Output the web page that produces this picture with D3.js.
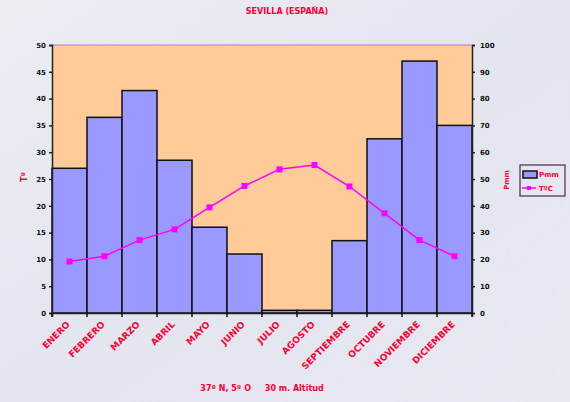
<!DOCTYPE html>
<html>
<head>
<meta charset="utf-8">
<script src="https://cdn.jsdelivr.net/npm/d3@7"></script>
<style>
  body { margin: 0; background: #e6e8f0; }
  text { font-family: "DejaVu Sans", sans-serif; }
</style>
</head>
<body>
<script>
// climograph data
var months = ['ENERO', 'FEBRERO', 'MARZO', 'ABRIL', 'MAYO', 'JUNIO', 'JULIO',
    'AGOSTO', 'SEPTIEMBRE', 'OCTUBRE', 'NOVIEMBRE', 'DICIEMBRE'];
var precip = [54, 73, 83, 57, 32, 22, 1, 1, 27, 65, 94, 70];      // Pmm
var temp = [9.6, 10.6, 13.6, 15.6, 19.7, 23.7, 26.8, 27.6, 23.6, 18.6, 13.6, 10.6]; // TºC
var tempTicks = d3.range(0, 51, 5);
var precTicks = d3.range(0, 101, 10);

var width = 570,
    height = 402,
    margin = {top: 45, right: 98, bottom: 89, left: 52};

var svg = d3.select('body').append('svg')
    .attr('width', width)
    .attr('height', height);

// soft background
var defs = svg.append('defs');
var grad = defs.append('linearGradient').attr('id', 'bg')
    .attr('x1', 0).attr('y1', 0).attr('x2', 1).attr('y2', 1);
grad.append('stop').attr('offset', 0).attr('stop-color', '#eceef4');
grad.append('stop').attr('offset', 0.5).attr('stop-color', '#e3e5ef');
grad.append('stop').attr('offset', 1).attr('stop-color', '#e8e9f1');
svg.append('rect').attr('width', width).attr('height', height).attr('fill', 'url(#bg)');

var x = d3.scaleBand()
    .domain(months)
    .range([margin.left, width - margin.right])
    .padding(0);

var yT = d3.scaleLinear().domain([0, 50]).range([height - margin.bottom, margin.top]);
var yP = d3.scaleLinear().domain([0, 100]).range([height - margin.bottom, margin.top]);

// plot area
svg.append('rect')
    .attr('x', margin.left)
    .attr('y', margin.top)
    .attr('width', width - margin.left - margin.right)
    .attr('height', height - margin.top - margin.bottom)
    .attr('fill', '#ffcc99');

svg.append('line')
    .attr('x1', margin.left).attr('x2', width - margin.right)
    .attr('y1', margin.top).attr('y2', margin.top)
    .attr('stroke', '#cc99cc').attr('stroke-width', 1.5);

// precipitation bars
svg.selectAll('rect.bar')
    .data(precip)
    .enter().append('rect')
    .attr('class', 'bar')
    .attr('x', function (d, i) { return x(months[i]); })
    .attr('y', function (d) { return yP(d); })
    .attr('width', x.bandwidth())
    .attr('height', function (d) { return yP(0) - yP(d); })
    .attr('fill', '#9999ff')
    .attr('stroke', '#111')
    .attr('stroke-width', 1.5);

// temperature line
var line = d3.line()
    .x(function (d, i) { return x(months[i]) + x.bandwidth() / 2; })
    .y(function (d) { return yT(d); });

svg.append('path')
    .datum(temp)
    .attr('d', line)
    .attr('fill', 'none')
    .attr('stroke', '#ff00ff')
    .attr('stroke-width', 1.5);

svg.selectAll('rect.pt')
    .data(temp)
    .enter().append('rect')
    .attr('class', 'pt')
    .attr('x', function (d, i) { return x(months[i]) + x.bandwidth() / 2 - 3; })
    .attr('y', function (d) { return yT(d) - 3; })
    .attr('width', 6)
    .attr('height', 6)
    .attr('fill', '#ff00ff');

// axes
var axisL = svg.append('g')
    .attr('transform', 'translate(' + margin.left + ',0)')
    .call(d3.axisLeft(yT).tickValues(tempTicks).tickSize(3).tickPadding(3));

var axisR = svg.append('g')
    .attr('transform', 'translate(' + (width - margin.right) + ',0)')
    .call(d3.axisRight(yP).tickValues(precTicks).tickSize(3).tickPadding(5));

var axisB = svg.append('g')
    .attr('transform', 'translate(0,' + (height - margin.bottom) + ')')
    .call(d3.axisBottom(x).tickSize(4).tickFormat(''));

// ticks on band edges
axisB.selectAll('.tick').remove();
svg.append('g').selectAll('line')
    .data(months.concat(['end']))
    .enter().append('line')
    .attr('x1', function (d, i) { return margin.left + i * x.bandwidth(); })
    .attr('x2', function (d, i) { return margin.left + i * x.bandwidth(); })
    .attr('y1', height - margin.bottom)
    .attr('y2', height - margin.bottom + 4)
    .attr('stroke', '#111').attr('stroke-width', 1.5);

[axisL, axisR, axisB].forEach(function (a) {
    a.select('.domain').attr('stroke', '#222').attr('stroke-width', 1.5);
    a.selectAll('.tick line').attr('stroke', '#222').attr('stroke-width', 1.5);
    a.selectAll('.tick text')
        .attr('fill', '#111')
        .style('font-size', '7px')
        .style('font-weight', 'bold');
});

// month labels
svg.append('g').selectAll('text')
    .data(months)
    .enter().append('text')
    .attr('transform', function (d) {
        return 'translate(' + (x(d) + x.bandwidth() / 2 + 1) + ',' + (height - margin.bottom + 12) + ') rotate(-45)';
    })
    .attr('text-anchor', 'end')
    .attr('fill', '#ff0033')
    .style('font-size', '9px')
    .style('font-weight', 'bold')
    .text(function (d) { return d; });

// title and notes
svg.append('text')
    .attr('x', 287).attr('y', 14)
    .attr('text-anchor', 'middle')
    .attr('fill', '#ff0033')
    .style('font-size', '8px')
    .style('font-weight', 'bold')
    .text('SEVILLA (ESPAÑA)');

svg.append('text')
    .attr('x', 262).attr('y', 391)
    .attr('text-anchor', 'middle')
    .attr('fill', '#ff0033')
    .style('font-size', '8px')
    .style('font-weight', 'bold')
    .style('white-space', 'pre')
    .text('37º N, 5º O     30 m. Altitud');

svg.append('text')
    .attr('transform', 'translate(27,177) rotate(-90)')
    .attr('text-anchor', 'middle')
    .attr('fill', '#ff0033')
    .style('font-size', '8px')
    .style('font-weight', 'bold')
    .text('Tº');

svg.append('text')
    .attr('transform', 'translate(509,180) rotate(-90)')
    .attr('text-anchor', 'middle')
    .attr('fill', '#ff0033')
    .style('font-size', '7px')
    .style('font-weight', 'bold')
    .text('Pmm');

// legend
var lg = svg.append('g').attr('transform', 'translate(520,165)');
lg.append('rect')
    .attr('width', 45).attr('height', 31)
    .attr('fill', 'none').attr('stroke', '#552255').attr('stroke-width', 1.2);
lg.append('rect')
    .attr('x', 3).attr('y', 6).attr('width', 14).attr('height', 7)
    .attr('fill', '#9999ff').attr('stroke', '#111').attr('stroke-width', 1.5);
lg.append('text')
    .attr('x', 19).attr('y', 12)
    .attr('fill', '#ff0033')
    .style('font-size', '7px').style('font-weight', 'bold')
    .text('Pmm');
lg.append('line')
    .attr('x1', 2).attr('x2', 16).attr('y1', 23).attr('y2', 23)
    .attr('stroke', '#ff00ff').attr('stroke-width', 1.5);
lg.append('rect')
    .attr('x', 7).attr('y', 21).attr('width', 4).attr('height', 4)
    .attr('fill', '#ff00ff');
lg.append('text')
    .attr('x', 19).attr('y', 26)
    .attr('fill', '#ff0033')
    .style('font-size', '7px').style('font-weight', 'bold')
    .text('TºC');
</script>
</body>
</html>
